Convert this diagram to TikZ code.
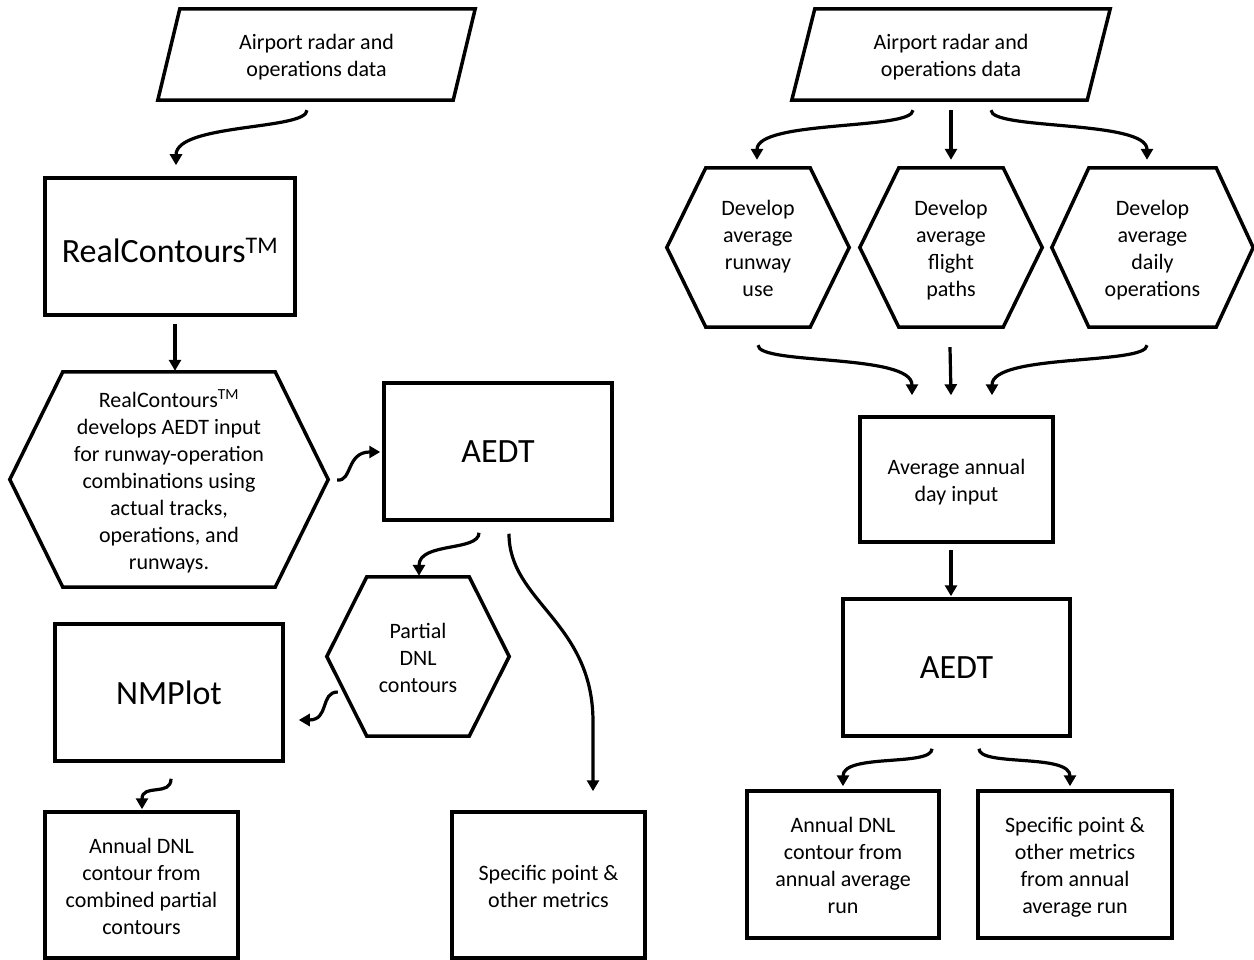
\documentclass[tikz,border=0pt]{standalone}
\usepackage{fontspec}
\setmainfont{Carlito}
\usetikzlibrary{arrows.meta}
\newcommand\hexout[2]{\draw[outline] ([xshift=#2]#1.north west) -- ([xshift=-#2]#1.north east) -- (#1.east) -- ([xshift=-#2]#1.south east) -- ([xshift=#2]#1.south west) -- (#1.west) -- cycle;}
\newcommand\parout[2]{\draw[outline] ([xshift=#2]#1.north west) -- (#1.north east) -- ([xshift=-#2]#1.south east) -- (#1.south west) -- cycle;}
\newcommand\tx[1]{\rule{0pt}{23pt}#1\rule[-6pt]{0pt}{6pt}}
\tikzset{
  txt/.style={font=\fontsize{22}{27}\selectfont},
  bigtxt/.style={font=\fontsize{34}{41}\selectfont},
  boxbase/.style={draw, line width=3.5pt, rectangle, inner sep=0pt, align=center},
  box/.style={boxbase, txt},
  bigbox/.style={boxbase, bigtxt},
  shp/.style={inner sep=0pt, align=center, txt},
  outline/.style={line width=3.5pt, line join=miter},
  arr/.style={line width=3.2pt, -{Triangle[length=11pt,width=12pt]}},
}
\begin{document}
\begin{tikzpicture}[x=1pt,y=-1pt]
\fill[white] (0,0) rectangle (1254,960);
\useasboundingbox (0,0) rectangle (1254,960);

% ---------- left flow ----------
\node[shp, minimum width=317pt, minimum height=91pt] (p1) at (316.5,54.5) {\tx{Airport radar and\\operations data}};
\parout{p1}{22pt}
\node[bigbox, minimum width=250pt, minimum height=137pt] (rc) at (170,246.5) {\raisebox{0pt}[\dimexpr\height+8pt\relax][\depth]{RealContours\textsuperscript{TM}}};
\node[shp, minimum width=318pt, minimum height=215pt] (h1) at (169,479.5)
  {\tx{RealContours\textsuperscript{TM}\\develops AEDT input\\for runway-operation\\combinations using\\actual tracks,\\operations, and\\runways.}};
\hexout{h1}{53pt}
\node[bigbox, minimum width=228pt, minimum height=137pt] (aedtL) at (498,451.5) {AEDT};
\node[shp, minimum width=182pt, minimum height=159pt] (h2) at (418,656.5) {\tx{Partial\\DNL\\contours}};
\hexout{h2}{40pt}
\node[bigbox, minimum width=228pt, minimum height=137pt] (nmp) at (169,692.5) {NMPlot};
\node[box, minimum width=193pt, minimum height=146pt] (annL) at (141.5,885) {\tx{Annual DNL\\contour from\\combined partial\\contours}};
\node[box, minimum width=193pt, minimum height=146pt] (specL) at (548.5,885) {\tx{Specific point \&\\other metrics}};

\draw[arr] ([shift={(-9.5,10)}]p1.south) .. controls +(0,20) and +(0,-42) .. ([shift={(6,-11)}]rc.north);
\draw[arr] ([shift={(5,7)}]rc.south) -- ([shift={(6,-1)}]h1.north);
\draw[arr] ([shift={(9,0.5)}]h1.east) .. controls +(15,2) and +(-34,0) .. ([shift={(-2,0.5)}]aedtL.west);
\draw[arr] ([shift={(-19,11)}]aedtL.south) .. controls +(0,19) and +(0,-34) .. ([shift={(1,-1)}]h2.north);
\draw[arr] ([shift={(11,12)}]aedtL.south) .. controls +(0,68) and +(0,-100) .. ++(84,188) -- ([shift={(44.5,-19)}]specL.north);
\draw[arr] ([shift={(11,35.5)}]h2.west) .. controls +(-18,0) and +(31,0) .. ([shift={(14,27.5)}]nmp.east);
\draw[arr] ([shift={(2,16)}]nmp.south) .. controls +(0,18) and +(0,-26) .. ([shift={(0.5,-1)}]annL.north);

% ---------- right flow ----------
\node[shp, minimum width=318pt, minimum height=91pt] (p2) at (951,54.5) {\tx{Airport radar and\\operations data}};
\parout{p2}{23pt}
\node[shp, minimum width=182pt, minimum height=159pt] (h3) at (758,247.5) {\tx{Develop\\average\\runway\\use}};
\hexout{h3}{39pt}
\node[shp, minimum width=182pt, minimum height=159pt] (h4) at (951,247.5) {\tx{Develop\\average\\flight\\paths}};
\hexout{h4}{39pt}
\node[shp, minimum width=201pt, minimum height=159pt] (h5) at (1152.5,247.5) {\tx{Develop\\average\\daily\\operations}};
\hexout{h5}{37pt}
\node[box, minimum width=193pt, minimum height=125pt] (avg) at (956.5,479.5) {\tx{Average annual\\day input}};
\node[bigbox, minimum width=227pt, minimum height=137pt] (aedtR) at (956.5,667.5) {AEDT};
\node[box, minimum width=192pt, minimum height=147pt] (annR) at (843,864.5) {\tx{Annual DNL\\contour from\\annual average\\run}};
\node[box, minimum width=194pt, minimum height=147pt] (specR) at (1075,864.5) {\tx{Specific point \&\\other metrics\\from annual\\average run}};

\draw[arr] ([shift={(-38,10)}]p2.south) .. controls +(0,20) and +(0,-40) .. ([shift={(-1,-8)}]h3.north);
\draw[arr] ([shift={(0,10)}]p2.south) -- ([shift={(0,-8)}]h4.north);
\draw[arr] ([shift={(40,10)}]p2.south) .. controls +(0,20) and +(0,-40) .. ([shift={(-5.5,-8)}]h5.north);
\draw[arr] ([shift={(0,18)}]h3.south) .. controls +(0,20) and +(0,-42) .. ([shift={(-44.5,-20)}]avg.north);
\draw[arr] ([shift={(-1,20)}]h4.south) -- ([shift={(-5.5,-20)}]avg.north);
\draw[arr] ([shift={(-5.5,18)}]h5.south) .. controls +(0,20) and +(0,-42) .. ([shift={(35.5,-20)}]avg.north);
\draw[arr] ([shift={(-5.5,6)}]avg.south) -- ([shift={(-5.5,-1)}]aedtR.north);
\draw[arr] ([shift={(-24.5,11)}]aedtR.south) .. controls +(0,18) and +(0,-33) .. ([shift={(0,-3)}]annR.north);
\draw[arr] ([shift={(22.5,11)}]aedtR.south) .. controls +(0,18) and +(0,-33) .. ([shift={(-5,-3)}]specR.north);
\end{tikzpicture}
\end{document}
